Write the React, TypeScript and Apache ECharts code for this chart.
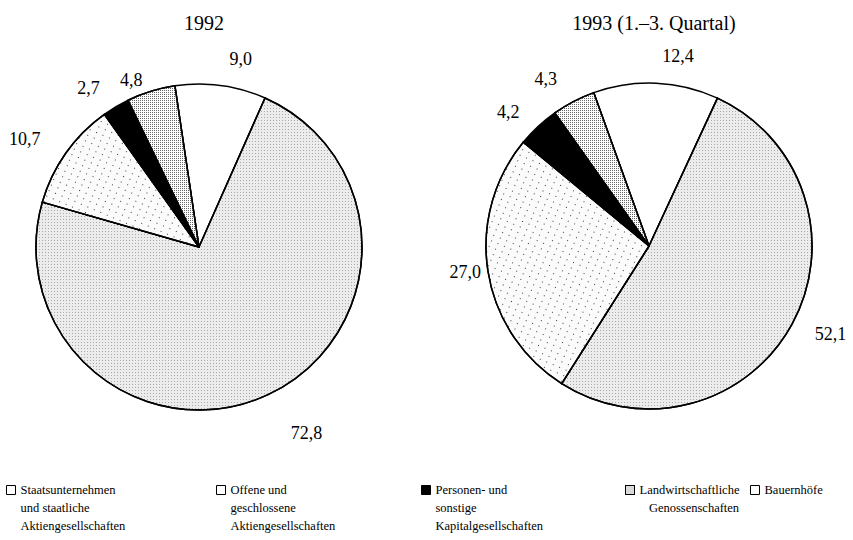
import React, { useEffect, useRef } from "react";
import * as echarts from "echarts";

const categories = [
  "Bauernhöfe",
  "Staatsunternehmen und staatliche Aktiengesellschaften",
  "Offene und geschlossene Aktiengesellschaften",
  "Personen- und sonstige Kapitalgesellschaften",
  "Landwirtschaftliche Genossenschaften",
];
const values1992 = [9.0, 72.8, 10.7, 2.7, 4.8];
const values1993 = [12.4, 52.1, 27.0, 4.2, 4.3];
const titles = ["1992", "1993 (1.–3. Quartal)"];
const legendOrder = [1, 2, 3, 4, 0];
const legendLines: Record<string, string[]> = {
  "Staatsunternehmen und staatliche Aktiengesellschaften": ["Staatsunternehmen", "und staatliche", "Aktiengesellschaften"],
  "Offene und geschlossene Aktiengesellschaften": ["Offene und", "geschlossene", "Aktiengesellschaften"],
  "Personen- und sonstige Kapitalgesellschaften": ["Personen- und", "sonstige", "Kapitalgesellschaften"],
  "Landwirtschaftliche Genossenschaften": ["Landwirtschaftliche", "   Genossenschaften"],
  "Bauernhöfe": ["Bauernhöfe"],
};

const FONT = "'Liberation Serif', 'Times New Roman', serif";

const sliceStyles: any[] = [
  { color: "#ffffff" },
  {
    color: "#ececec",
    decal: { symbol: "rect", symbolSize: 1, dashArrayX: [1, 2], dashArrayY: [1, 2], color: "rgba(0,0,0,0.28)" },
  },
  {
    color: "#fbfbfb",
    decal: { symbol: "rect", symbolSize: 1, dashArrayX: [1, 6], dashArrayY: [1, 5], color: "rgba(0,0,0,0.75)", rotation: 0.4 },
  },
  { color: "#000000" },
  {
    color: "#ffffff",
    decal: { symbol: "rect", symbolSize: 1, dashArrayX: [1, 1], dashArrayY: [1, 1], color: "rgba(0,0,0,0.6)" },
  },
];

const labelLen1992 = [27, 42, 25, 22, 12];
const labelLen1993 = [27, 20, 2, 20, 25];

const fmt = (v: number) => v.toFixed(1).replace(".", ",");

export default function App() {
  const ref = useRef<HTMLDivElement>(null);
  useEffect(() => {
    if (!ref.current) return;
    const chart = echarts.init(ref.current, undefined, { renderer: "svg" });

    const makeData = (vals: number[], lens: number[]) =>
      vals.map((v, i) => ({
        name: categories[i],
        value: v,
        itemStyle: sliceStyles[i],
        labelLine: { show: false, length: lens[i], length2: 0 },
      }));

    const pieCommon = {
      type: "pie",
      radius: 163,
      clockwise: true,
      avoidLabelOverlap: false,
      itemStyle: { borderColor: "#000", borderWidth: 1.5 },
      label: {
        show: true,
        position: "outside",
        formatter: (p: any) => fmt(p.value),
        fontFamily: FONT,
        fontSize: 18,
        color: "#000",
        distanceToLabelLine: 5,
      },
      labelLine: { show: false },
      emphasis: { disabled: true },
    };

    // text block of 5 lines: two blank lines above so that the first line sits beside the icon
    const legendText = (n: string) => {
      const lines = legendLines[n] ?? [n];
      const pad: string[] = [];
      for (let i = lines.length; i < 3; i++) pad.push("");
      return ["", "", ...lines, ...pad].join("\n");
    };

    const legendX = [6, 216, 421, 625, 750];
    const legends = legendOrder.map((ci, k) => {
      const name = categories[ci];
      const iconStyle: any =
        ci === 1 || ci === 2
          ? { color: "#fff", decal: "none", borderColor: "#000", borderWidth: 1 }
          : { borderColor: "#000", borderWidth: 1 };
      return {
        left: legendX[k],
        top: 445,
        padding: 0,
        orient: "horizontal",
        itemWidth: 9,
        itemHeight: 9,
        itemGap: 0,
        selectedMode: false,
        icon: "rect",
        data: [{ name, itemStyle: iconStyle }],
        formatter: legendText,
        textStyle: {
          fontFamily: FONT,
          fontSize: 12.5,
          lineHeight: 18,
          color: "#000",
        },
      };
    });

    chart.setOption({
      animation: false,
      backgroundColor: "#fff",
      title: [
        { text: titles[0], left: 199, top: 8, textAlign: "center", textStyle: { fontFamily: FONT, fontSize: 20, fontWeight: "normal", color: "#000" } },
        { text: titles[1], left: 649, top: 8, textAlign: "center", textStyle: { fontFamily: FONT, fontSize: 20, fontWeight: "normal", color: "#000" } },
      ],
      legend: legends,
      series: [
        { ...pieCommon, name: titles[0], center: [199, 247], startAngle: 98.5, data: makeData(values1992, labelLen1992) },
        { ...pieCommon, name: titles[1], center: [649, 246], startAngle: 109.8, data: makeData(values1993, labelLen1993) },
      ],
    });
    return () => chart.dispose();
  }, []);
  return <div ref={ref} style={{ position: "fixed", left: 0, top: 0, width: 853, height: 540 }} />;
}
